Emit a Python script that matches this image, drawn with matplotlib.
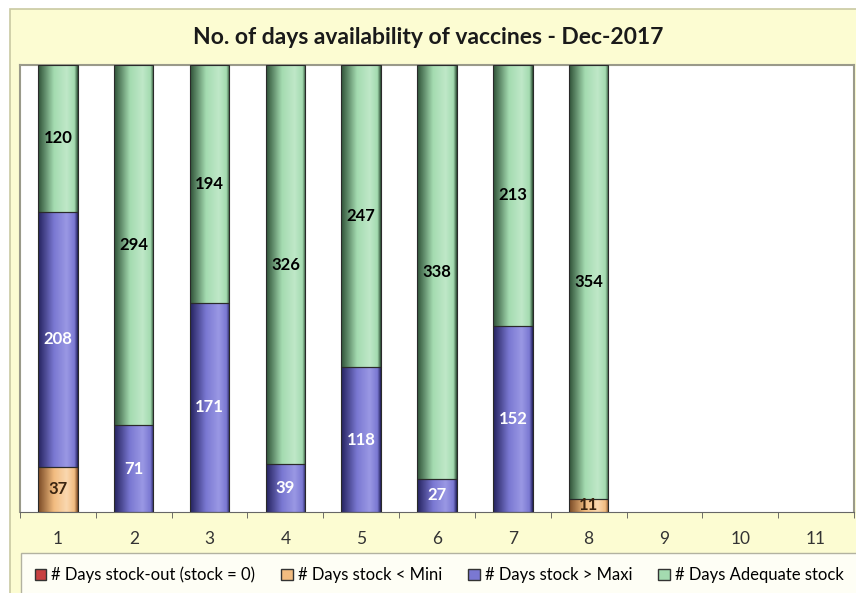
import matplotlib
matplotlib.use("Agg")
import matplotlib.pyplot as plt
import numpy as np
from matplotlib.colors import LinearSegmentedColormap
from matplotlib.patches import Rectangle

plt.rcParams['font.family'] = ['Lato', 'DejaVu Sans']

# data (days in Dec-2017 window, each bar totals 365)
categories = [str(i) for i in range(1, 12)]
stock_out = [0, 0, 0, 0, 0, 0, 0, 0, 0, 0, 0]
below_mini = [37, 0, 0, 0, 0, 0, 0, 11, 0, 0, 0]
above_maxi = [208, 71, 171, 39, 118, 27, 152, 0, 0, 0, 0]
adequate = [120, 294, 194, 326, 247, 338, 213, 354, 0, 0, 0]

series_names = ["# Days stock-out (stock = 0)", "# Days stock < Mini",
                "# Days stock > Maxi", "# Days Adequate stock"]
title = "No. of days availability of vaccines - Dec-2017"

# (base colour, dark edge, light highlight, label colour)
styles = [
    ("#c84040", "#6a1a1a", "#e07070", "black"),
    ("#f2bc80", "#7a4a25", "#fad8b0", "#3a2410"),
    ("#7a78d2", "#25235f", "#9a98e4", "white"),
    ("#a4dbb0", "#2f5238", "#bfe8c8", "black"),
]


def shade(ax, patch, base, dark, light):
    h = patch.get_height()
    if h <= 0:
        return
    cmap = LinearSegmentedColormap.from_list(
        "cyl", [(0, dark), (0.4, base), (0.72, light), (0.92, base), (1, dark)])
    grad = np.linspace(0, 1, 64).reshape(1, -1)
    x0, y0, w = patch.get_x(), patch.get_y(), patch.get_width()
    ax.imshow(grad, cmap=cmap, aspect="auto", extent=(x0, x0 + w, y0, y0 + h),
              zorder=2, interpolation="bilinear")


fig = plt.figure(figsize=(8.56, 5.93), dpi=100)
fig.patch.set_facecolor("white")
frame = Rectangle((10 / 856, -0.01), 1.0, (593 - 9) / 593 + 0.01,
                  transform=fig.transFigure, facecolor="#fcfcd2",
                  edgecolor="#c9c9a2", lw=1.2, zorder=-10)
fig.patches.append(frame)

ax = fig.add_axes([20 / 856, 81 / 593, 834 / 856, 447 / 593])
ax.set_zorder(1)
ax.set_facecolor("white")

x = np.arange(1, len(categories) + 1)
bottom = np.zeros(len(categories))
for vals, name, (base, dark, light, lc) in zip(
        [stock_out, below_mini, above_maxi, adequate], series_names, styles):
    bars = ax.bar(x, vals, 0.52, bottom=bottom, color=base, edgecolor="#2a2a2a",
                  linewidth=0.8, label=name, zorder=3)
    for p in bars:
        p.set_facecolor("none")
        if p.get_height() <= 0:
            p.set_visible(False)
        shade(ax, p, base, dark, light)
    labels = [str(v) if v > 0 else "" for v in vals]
    ax.bar_label(bars, labels=labels, label_type="center", color=lc,
                 fontsize=12, fontweight="bold", zorder=4)
    bottom += np.array(vals)

ax.set_xlim(0.5, len(categories) + 0.5)
ax.set_ylim(0, 365)
ax.set_aspect("auto")
ax.set_yticks([])
ax.set_xticks(x)
ax.set_xticklabels(categories, fontsize=12.5, color="#333333")
ax.set_xticks(np.arange(0.5, len(categories) + 1, 1), minor=True)
ax.tick_params(axis="x", which="major", length=0, pad=14)
ax.tick_params(axis="x", which="minor", length=4, color="#555555")
for side in ["top", "right", "left"]:
    ax.spines[side].set_color("#9a9a8a")
    ax.spines[side].set_linewidth(1.5)
ax.spines["bottom"].set_color("#666666")

fig.text(428 / 856, 1 - 38 / 593, title, ha="center", va="center",
         fontsize=16.5, fontweight="bold", color="#1a1a1a")

handles = [Rectangle((0, 0), 1, 1, facecolor=s[0], edgecolor="#333333") for s in styles]
leg = fig.legend(handles, series_names, loc="lower center", ncol=4,
                 bbox_to_anchor=(439 / 856, -0.006), fontsize=12,
                 frameon=True, fancybox=False, columnspacing=1.55,
                 handlelength=0.7, handleheight=0.7, handletextpad=0.3,
                 borderaxespad=0, borderpad=0.8)
leg.get_frame().set_edgecolor("#a0a090")
leg.get_frame().set_facecolor("white")

fig.savefig("out.png", dpi=100)
